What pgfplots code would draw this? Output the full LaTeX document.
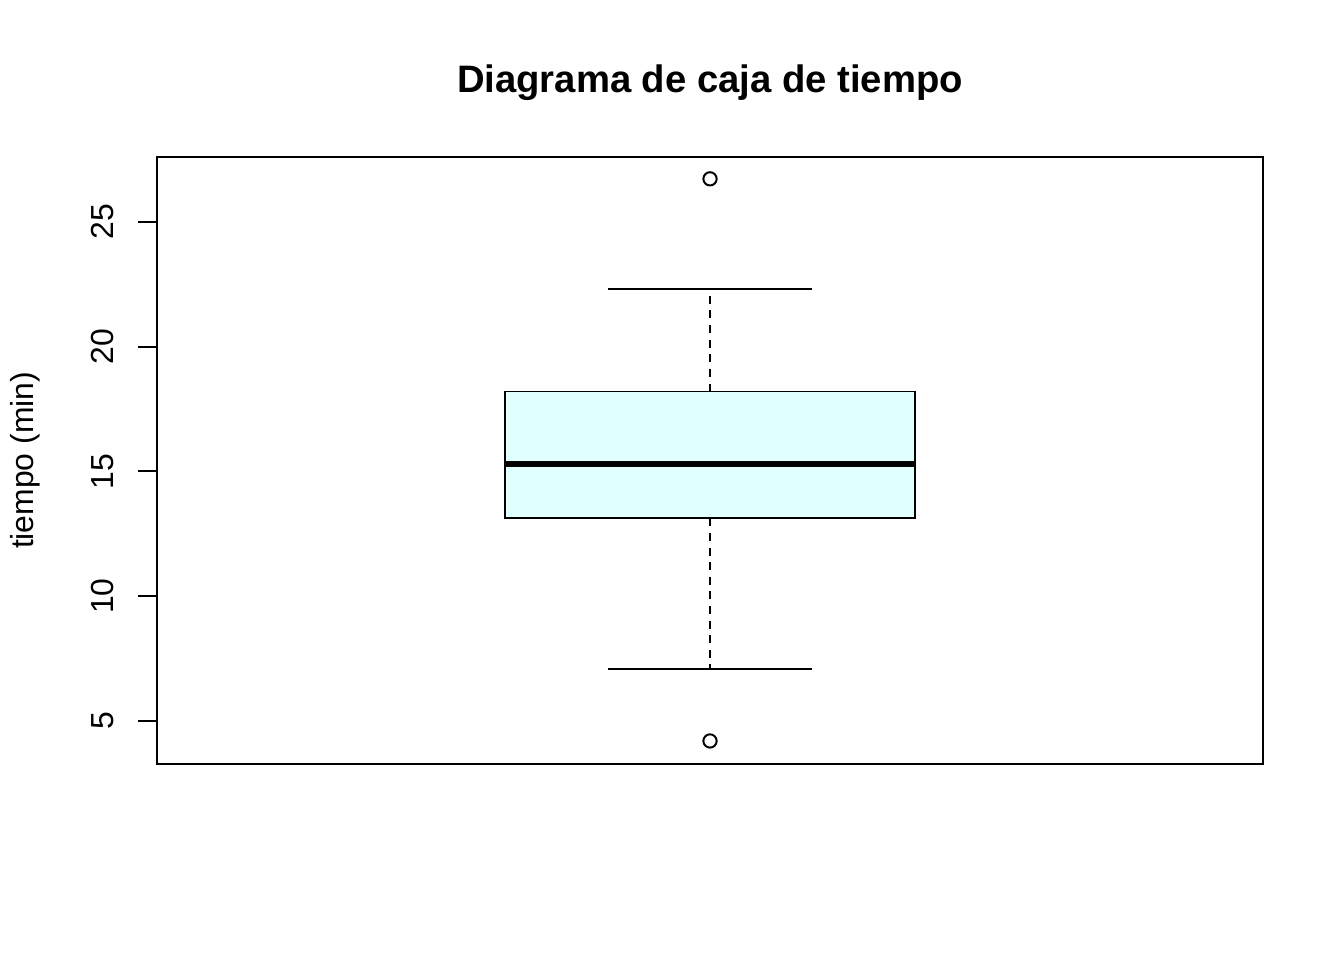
\documentclass[border=0pt]{standalone}
\usepackage{fontspec}
\setmainfont{Liberation Sans}
\usepackage{pgfplots}
\pgfplotsset{compat=1.18}
\definecolor{lightcyanR}{HTML}{E0FFFF}
\begin{document}
\begin{tikzpicture}
\path[use as bounding box] (0pt,0pt) rectangle (505.89pt,361.35pt);
\begin{axis}[
  at={(59.1pt,73.8pt)}, anchor=south west,
  scale only axis, width=416.3pt, height=228.5pt,
  xmin=0.5, xmax=1.5, ymin=3.28, ymax=27.6,
  axis line style={line width=0.75pt},
  xtick=\empty,
  ytick={5,10,15,20,25},
  tick align=outside,
  major tick length=7.2pt,
  tick style={line width=0.75pt, black},
  axis y line*=left,
  axis x line*=bottom,
  /pgf/number format/assume math mode=true,
  yticklabel style={xshift=-9pt, rotate=90, anchor=base, font=\fontsize{12}{14}\selectfont},
  clip=false,
]
\draw[line width=0.75pt] (rel axis cs:0,0) rectangle (rel axis cs:1,1);
% box (Q1 = 13.12, Q3 = 18.2)
\addplot[draw=black, fill=lightcyanR, line width=0.75pt, mark=none]
  coordinates {(0.8146,13.12) (1.1853,13.12) (1.1853,18.2) (0.8146,18.2)} -- cycle;
% median
\addplot[black, line width=2.25pt, mark=none]
  coordinates {(0.8146,15.28) (1.1853,15.28)};
% whiskers
\addplot[black, line width=0.75pt, dash pattern=on 3pt off 2.5pt, mark=none]
  coordinates {(1,18.2) (1,22.31)};
\addplot[black, line width=0.75pt, dash pattern=on 3pt off 2.5pt, mark=none]
  coordinates {(1,13.12) (1,7.07)};
% whisker caps
\addplot[black, line width=0.75pt, mark=none]
  coordinates {(0.9078,22.31) (1.0922,22.31)};
\addplot[black, line width=0.75pt, mark=none]
  coordinates {(0.9078,7.07) (1.0922,7.07)};
% outliers
\addplot[black, only marks, mark=o, mark size=2.5pt, mark options={line width=0.75pt}]
  coordinates {(1,26.72) (1,4.2)};
\node[font=\bfseries\fontsize{14.4}{16}\selectfont] at (axis description cs:0.5,1) [yshift=28pt] {Diagrama de caja de tiempo};
\node[xshift=-49.7pt, rotate=90, font=\fontsize{12}{14}\selectfont] at (axis description cs:0,0.5) {tiempo (min)};
\end{axis}
\end{tikzpicture}
\end{document}
